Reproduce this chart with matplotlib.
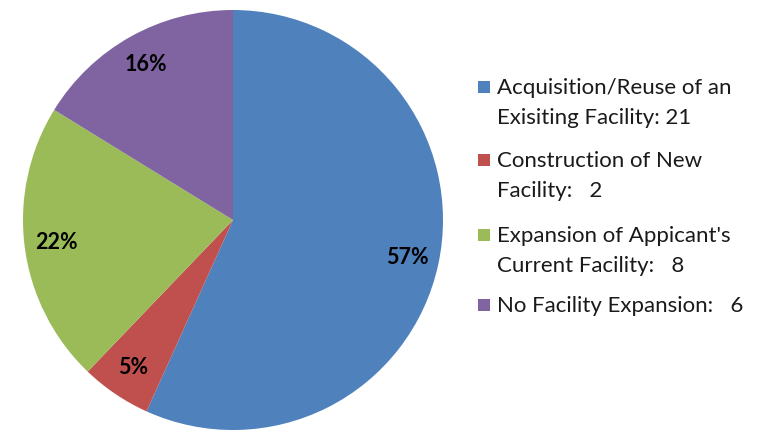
import matplotlib
matplotlib.use("Agg")
import matplotlib.pyplot as plt
from matplotlib.patches import Rectangle

# data
labels = [
    "Acquisition/Reuse of an\nExisiting Facility: 21",
    "Construction of New\nFacility:   2",
    "Expansion of Appicant's\nCurrent Facility:   8",
    "No Facility Expansion:   6",
]
counts = [21, 2, 8, 6]
colors = ["#4F81BD", "#C0504D", "#9BBB59", "#8064A2"]

plt.rcParams["font.family"] = ["Lato", "DejaVu Sans"]

fig = plt.figure(figsize=(7.58, 4.30), dpi=100)
ax = fig.add_axes([23 / 758, 0.0, 420 / 758, 420 / 430])

wedges, texts, autotexts = ax.pie(
    counts,
    colors=colors,
    startangle=90,
    counterclock=False,
    autopct=lambda p: f"{p:.0f}%",
    pctdistance=0.85,
    wedgeprops=dict(linewidth=0),
)
for t in autotexts:
    t.set_fontsize(15.5)
    t.set_fontweight("bold")
    t.set_color("black")
ax.set_xlim(-1, 1)
ax.set_ylim(-1, 1)
ax.set_aspect("equal")

# legend drawn by hand so the marker lines up with the first text line
W, H = 758, 430
y_first = [87, 160, 235, 305]
for lab, col, y in zip(labels, colors, y_first):
    fig.patches.append(
        Rectangle((478 / W, (H - y - 6) / H), 12 / W, 12 / H,
                  transform=fig.transFigure, facecolor=col, edgecolor="none")
    )
    fig.text(497 / W, (H - y + 9) / H, lab, fontsize=16, va="top", ha="left",
             linespacing=1.62, color="#1a1a1a")

fig.savefig("out.png", dpi=100)
